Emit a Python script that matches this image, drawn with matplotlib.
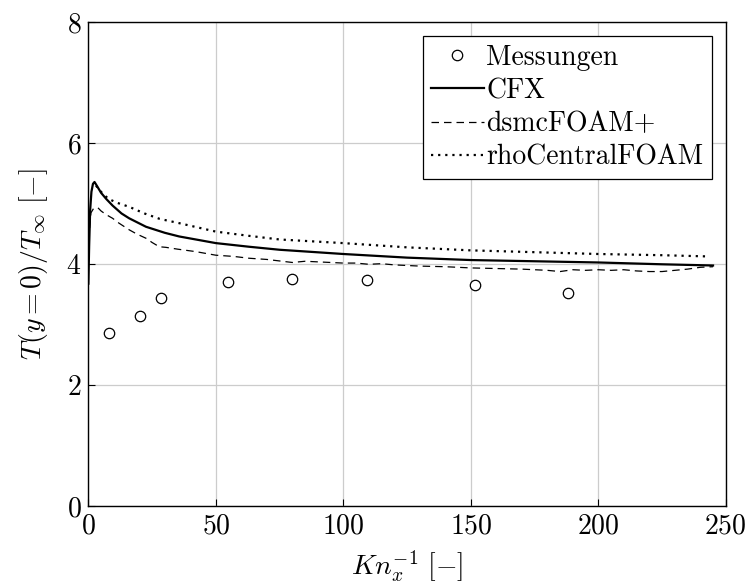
import matplotlib
matplotlib.use("Agg")
import matplotlib.pyplot as plt

plt.rcParams["font.family"] = "serif"
plt.rcParams["font.serif"] = ["cmr10", "DejaVu Serif"]
plt.rcParams["mathtext.fontset"] = "cm"
plt.rcParams["axes.formatter.use_mathtext"] = True

# Measurements
mess_x = [8.1, 20.2, 28.5, 54.8, 80.0, 109.2, 151.6, 188.1]
mess_y = [2.86, 3.15, 3.44, 3.70, 3.75, 3.74, 3.66, 3.53]

# CFX
cfx_x = [0, 0.3, 0.7, 1.2, 1.8, 2.4, 3.0, 4, 5, 7, 9.5, 13, 16, 22.6, 30, 35.6,
         50, 63, 75, 100, 125, 150, 175, 200, 225, 245]
cfx_y = [3.68, 4.3, 4.9, 5.2, 5.33, 5.36, 5.32, 5.25, 5.18, 5.08, 4.97, 4.84, 4.76,
         4.62, 4.52, 4.46, 4.35, 4.29, 4.24, 4.17, 4.11, 4.07, 4.05, 4.03, 4.00, 3.98]

# dsmcFOAM+
dsmc_x = [0.5, 1, 2, 3.6, 5, 7, 9.5, 12, 16, 19, 22.6, 25, 27.8, 30.4, 35, 42, 50,
          57, 63, 70, 76, 80, 85, 90, 95, 100, 105, 110, 115, 120, 130, 140, 150,
          160, 170, 175, 180, 185, 190, 195, 200, 205, 210, 215, 220, 225, 230,
          235, 240, 245]
dsmc_y = [4.6, 4.85, 4.92, 4.94, 4.88, 4.82, 4.76, 4.68, 4.57, 4.50, 4.43, 4.36,
          4.29, 4.28, 4.25, 4.21, 4.15, 4.13, 4.10, 4.08, 4.05, 4.03, 4.05, 4.04,
          4.03, 4.02, 4.02, 4.00, 4.01, 3.99, 3.97, 3.96, 3.94, 3.93, 3.92, 3.91,
          3.90, 3.88, 3.91, 3.90, 3.91, 3.90, 3.91, 3.89, 3.88, 3.88, 3.90, 3.92,
          3.95, 3.96]

# rhoCentralFOAM
rho_x = [3, 4.3, 6, 8, 11, 16, 22, 28, 35.6, 50, 63, 75, 100, 125, 150, 175, 200,
         225, 243]
rho_y = [5.30, 5.23, 5.15, 5.08, 5.02, 4.95, 4.84, 4.75, 4.68, 4.54, 4.47, 4.41,
         4.35, 4.28, 4.23, 4.20, 4.17, 4.15, 4.13]

fs = 20

fig = plt.figure(figsize=(7.49, 5.86), dpi=100)
ax = fig.add_axes([0.118, 0.136, 0.851, 0.826])

ax.plot(mess_x, mess_y, linestyle="none", marker="o", markersize=7.5,
        markerfacecolor="white", markeredgecolor="black", markeredgewidth=0.9,
        label="Messungen", zorder=4)
ax.plot(cfx_x, cfx_y, color="black", lw=1.6, label="CFX", zorder=3)
ax.plot(dsmc_x, dsmc_y, color="black", lw=0.9, linestyle=(0, (6, 4)),
        label="dsmcFOAM+", zorder=3)
ax.plot(rho_x, rho_y, color="black", lw=1.6, linestyle=(0, (1, 2.2)),
        label="rhoCentralFOAM", zorder=3)

ax.set_xlim(0, 250)
ax.set_ylim(0, 8)
ax.set_xticks([0, 50, 100, 150, 200, 250])
ax.set_yticks([0, 2, 4, 6, 8])
ax.grid(True, color="#cccccc", linewidth=0.9)
ax.set_axisbelow(True)
ax.tick_params(direction="in", length=5, width=0.8, labelsize=fs, pad=5,
               top=False, right=False)
for s in ax.spines.values():
    s.set_linewidth(1.0)

ax.set_xlabel(r"$Kn_x^{-1}\ [-]$", fontsize=fs, labelpad=6)
ax.set_ylabel(r"$T(y=0)/T_\infty\ [-]$", fontsize=fs, labelpad=12)

leg = ax.legend(loc="upper right", fontsize=fs, frameon=True, fancybox=False,
                edgecolor="black", framealpha=1, handlelength=1.9,
                handletextpad=0.1, labelspacing=0.25, borderpad=0.3,
                borderaxespad=0.5)
leg.get_frame().set_linewidth(0.9)

fig.savefig("out.png", dpi=100)
